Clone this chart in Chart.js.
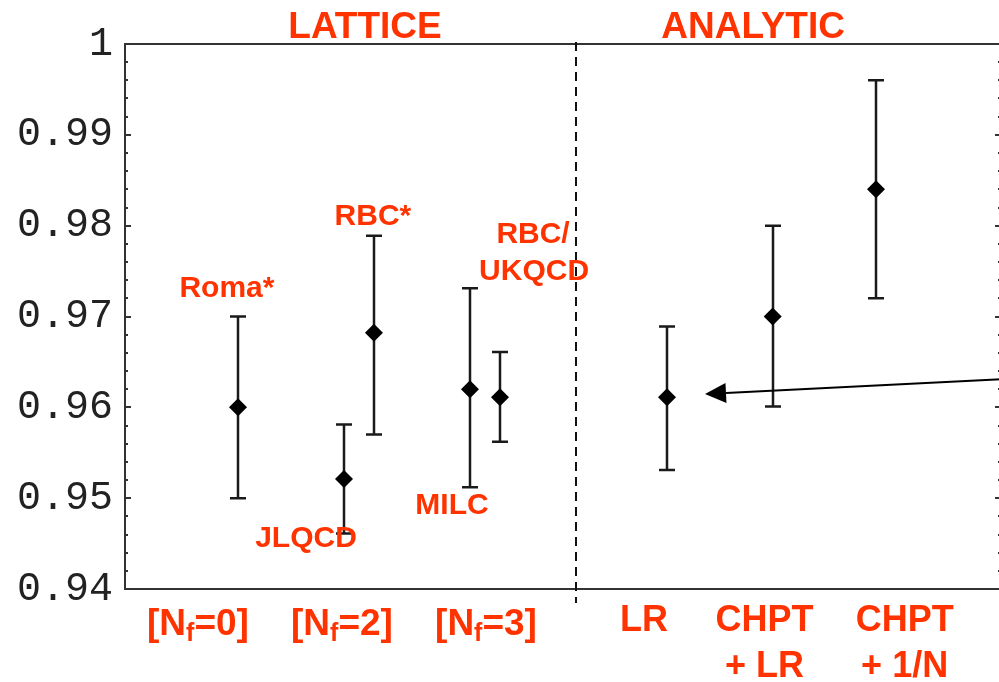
<!DOCTYPE html>
<html lang="en">
<head>
  <meta charset="UTF-8">
  <title>Form factor f+(0)</title>
  <script src="https://cdn.jsdelivr.net/npm/chart.js"></script>
  <style>
    html, body { margin: 0; padding: 0; background: #fff; overflow: hidden; }
    #wrap { width: 1002px; height: 682px; }
  </style>
</head>
<body>
  <div id="wrap"><canvas id="grafico" width="1002" height="682"></canvas></div>

  <script>
    // data: one entry per result
    const pointNames = ['Roma*', 'JLQCD', 'RBC*', 'MILC', 'RBC/UKQCD', 'LR', 'CHPT + LR', 'CHPT + 1/N'];
    const xPos    = [12.90, 25.00, 28.42, 39.38, 42.81, 61.87, 73.94, 85.73];
    const central = [0.9600, 0.9521, 0.9682, 0.9620, 0.9611, 0.9611, 0.9700, 0.9840];
    const upper   = [0.9700, 0.9581, 0.9789, 0.9731, 0.9661, 0.9689, 0.9800, 0.9960];
    const lower   = [0.9500, 0.9461, 0.9570, 0.9512, 0.9562, 0.9531, 0.9601, 0.9720];

    const yTicks = [0.94, 0.95, 0.96, 0.97, 0.98, 0.99, 1];
    const yTickLabels = ['0.94', '0.95', '0.96', '0.97', '0.98', '0.99', '1'];

    // group names under the axis ([N, sub f, =0])
    const groupNames = [['[N', 'f', '=0]'], ['[N', 'f', '=2]'], ['[N', 'f', '=3]'], ['LR'], ['CHPT', '+ LR'], ['CHPT', '+ 1/N']];
    const groupX = [8.33, 24.77, 41.21, 59.25, 73.0, 89.0];

    const sections = ['LATTICE', 'ANALYTIC'];
    const sectionX = [27.4, 71.7];
    const dividerX = 51.45;

    // text next to the lattice points
    const pointLabels = [
      { text: 'Roma*', x: 11.64, y: 0.9722 },
      { text: 'JLQCD', x: 20.66, y: 0.9446 },
      { text: 'RBC*', x: 28.3, y: 0.9801 },
      { text: 'MILC', x: 37.33, y: 0.9483 },
      { text: 'RBC/', x: 46.58, y: 0.9781 },
      { text: 'UKQCD', x: 46.7, y: 0.9740 }
    ];

    const arrowFrom = { x: 100, y: 0.9631 };
    const arrowTo = { x: 66.21, y: 0.96147 };

    const RED = '#ff3300';

    function drawSub(ctx, parts, cx, base, size) {
      const main = 'bold ' + size + 'px "Liberation Sans", Arial, sans-serif';
      const small = 'bold ' + Math.round(size * 0.68) + 'px "Liberation Sans", Arial, sans-serif';
      ctx.font = main;
      const w0 = ctx.measureText(parts[0]).width;
      const w2 = ctx.measureText(parts[2]).width;
      ctx.font = small;
      const w1 = ctx.measureText(parts[1]).width;
      let x = cx - (w0 + w1 + w2) / 2;
      ctx.textAlign = 'left';
      ctx.font = main;
      ctx.fillText(parts[0], x, base);
      x += w0;
      ctx.font = small;
      ctx.fillText(parts[1], x, base + 6);
      x += w1;
      ctx.font = main;
      ctx.fillText(parts[2], x, base);
    }

    const extras = {
      id: 'extras',
      beforeDatasetsDraw(chart) {
        const ctx = chart.ctx;
        const xs = chart.scales.x, ys = chart.scales.y;
        const a = chart.chartArea;
        ctx.save();

        // top frame + right frame
        ctx.strokeStyle = '#333';
        ctx.lineWidth = 2;
        ctx.beginPath();
        ctx.moveTo(a.left, a.top);
        ctx.lineTo(a.right, a.top);
        ctx.lineTo(a.right, a.bottom);
        ctx.stroke();

        // inward ticks, left and right
        ctx.lineWidth = 2;
        for (let i = 0; i < yTicks.length; i++) {
          const py = Math.round(ys.getPixelForValue(yTicks[i]));
          ctx.beginPath();
          ctx.moveTo(a.left, py); ctx.lineTo(a.left + 6, py);
          ctx.moveTo(a.right, py); ctx.lineTo(a.right - 6, py);
          ctx.stroke();
          if (i < yTicks.length - 1) {
            const step = (yTicks[i + 1] - yTicks[i]) / 5;
            for (let k = 1; k < 5; k++) {
              const my = Math.round(ys.getPixelForValue(yTicks[i] + k * step));
              ctx.beginPath();
              ctx.moveTo(a.left, my); ctx.lineTo(a.left + 3, my);
              ctx.moveTo(a.right, my); ctx.lineTo(a.right - 3, my);
              ctx.stroke();
            }
          }
        }

        // dashed divider between lattice and analytic
        const dx = Math.round(xs.getPixelForValue(dividerX));
        ctx.strokeStyle = '#111';
        ctx.setLineDash([9, 6]);
        ctx.beginPath();
        ctx.moveTo(dx, a.top - 2);
        ctx.lineTo(dx, a.bottom + 14);
        ctx.stroke();
        ctx.setLineDash([]);

        // error bars
        ctx.strokeStyle = '#1a1a1a';
        ctx.lineWidth = 2.5;
        for (let i = 0; i < xPos.length; i++) {
          const px = Math.round(xs.getPixelForValue(xPos[i]));
          const hi = ys.getPixelForValue(upper[i]);
          const lo = ys.getPixelForValue(lower[i]);
          ctx.beginPath();
          ctx.moveTo(px, hi); ctx.lineTo(px, lo);
          ctx.moveTo(px - 8, hi); ctx.lineTo(px + 8, hi);
          ctx.moveTo(px - 8, lo); ctx.lineTo(px + 8, lo);
          ctx.stroke();
        }

        // arrow pointing to LR
        const x1 = xs.getPixelForValue(arrowFrom.x), y1 = ys.getPixelForValue(arrowFrom.y);
        const x2 = xs.getPixelForValue(arrowTo.x), y2 = ys.getPixelForValue(arrowTo.y);
        const ang = Math.atan2(y2 - y1, x2 - x1);
        const hl = 21, hw = 10;
        const bx = x2 - hl * Math.cos(ang), by = y2 - hl * Math.sin(ang);
        ctx.strokeStyle = '#000';
        ctx.lineWidth = 2;
        ctx.beginPath();
        ctx.moveTo(x1, y1); ctx.lineTo(bx, by);
        ctx.stroke();
        ctx.fillStyle = '#000';
        ctx.beginPath();
        ctx.moveTo(x2, y2);
        ctx.lineTo(bx + hw * Math.sin(ang), by - hw * Math.cos(ang));
        ctx.lineTo(bx - hw * Math.sin(ang), by + hw * Math.cos(ang));
        ctx.closePath();
        ctx.fill();

        ctx.restore();
      },
      afterDraw(chart) {
        const ctx = chart.ctx;
        const xs = chart.scales.x, ys = chart.scales.y;
        const a = chart.chartArea;
        ctx.save();
        ctx.fillStyle = RED;
        ctx.textBaseline = 'alphabetic';

        // section headers
        ctx.textAlign = 'center';
        ctx.font = 'bold 37px "Liberation Sans", Arial, sans-serif';
        sections.forEach((s, i) => ctx.fillText(s, xs.getPixelForValue(sectionX[i]), a.top - 6));

        // point labels
        ctx.font = 'bold 30px "Liberation Sans", Arial, sans-serif';
        pointLabels.forEach(l => ctx.fillText(l.text, xs.getPixelForValue(l.x), ys.getPixelForValue(l.y)));

        // group names below axis
        groupNames.forEach((g, i) => {
          const cx = xs.getPixelForValue(groupX[i]);
          if (g.length === 3) {
            drawSub(ctx, g, cx, a.bottom + 46, 37);
          } else {
            ctx.textAlign = 'center';
            ctx.font = 'bold 36px "Liberation Sans", Arial, sans-serif';
            g.forEach((line, k) => ctx.fillText(line, cx, a.bottom + 42 + k * 46));
          }
        });
        ctx.restore();
      }
    };

    function noPad(s) {
      s.paddingLeft = 0; s.paddingRight = 0;
      s.paddingTop = 0; s.paddingBottom = 0;
    }

    const ctx = document.getElementById('grafico').getContext('2d');
    new Chart(ctx, {
      type: 'scatter',
      data: {
        labels: pointNames,
        datasets: [{
          label: 'f+(0)',
          data: xPos.map((x, i) => ({ x: x, y: central[i] })),
          pointStyle: 'rectRot',
          pointRadius: 9,
          pointHoverRadius: 9,
          backgroundColor: '#000',
          borderColor: '#000',
          borderWidth: 0
        }]
      },
      options: {
        responsive: false,
        animation: false,
        devicePixelRatio: 1,
        layout: { autoPadding: false, padding: { top: 44, right: 1, left: 0, bottom: 0 } },
        plugins: {
          legend: { display: false },
          tooltip: { enabled: false }
        },
        scales: {
          x: {
            type: 'linear',
            min: 0,
            max: 100,
            ticks: { display: false },
            grid: { display: false, drawTicks: false },
            border: { display: true, color: '#333', width: 2 },
            afterFit(s) { s.height = 93; noPad(s); }
          },
          y: {
            min: 0.94,
            max: 1,
            afterBuildTicks(s) { s.ticks = yTicks.map(v => ({ value: v })); },
            ticks: {
              callback: (v) => yTickLabels[yTicks.indexOf(v)] ?? '',
              font: { family: '"Liberation Mono", monospace', size: 40 },
              color: '#222',
              padding: 12
            },
            grid: { display: false, drawTicks: false },
            border: { display: true, color: '#333', width: 2 },
            afterFit(s) { s.width = 125; noPad(s); }
          }
        }
      },
      plugins: [extras]
    });
  </script>
</body>
</html>
